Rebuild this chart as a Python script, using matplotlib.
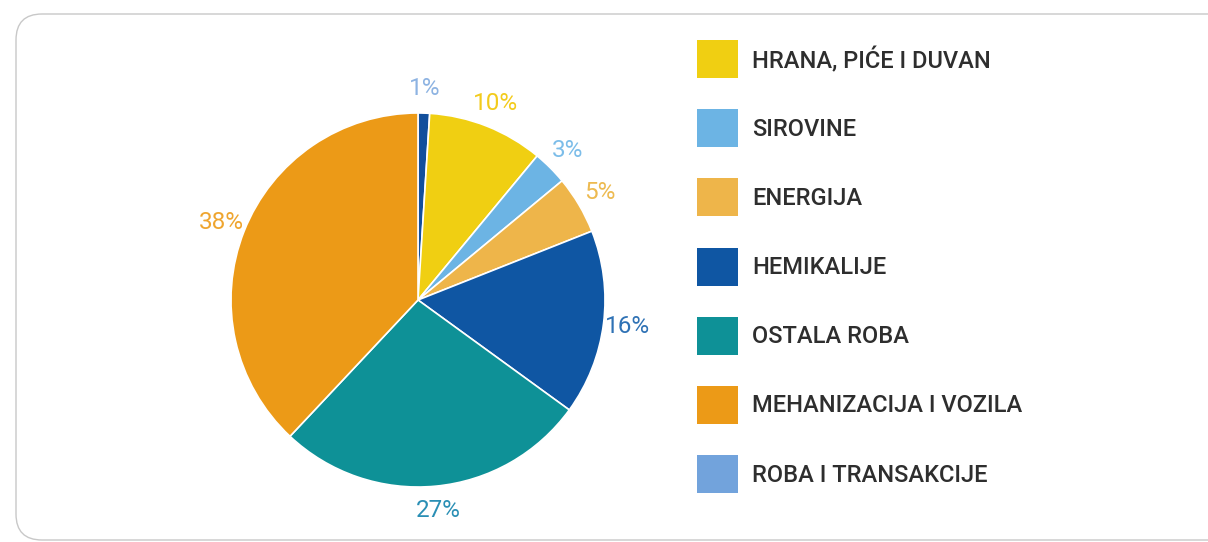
import numpy as np
import matplotlib
matplotlib.use("Agg")
import matplotlib.pyplot as plt
from matplotlib.patches import FancyBboxPatch, Rectangle

# slices clockwise from 12 o'clock
slice_names = ["ROBA I TRANSAKCIJE", "HRANA, PIĆE I DUVAN", "SIROVINE", "ENERGIJA",
               "HEMIKALIJE", "OSTALA ROBA", "MEHANIZACIJA I VOZILA"]
slice_values = [1, 10, 3, 5, 16, 27, 38]
slice_colors = ["#124f9c", "#f0cf12", "#6cb4e4", "#eeb54a", "#0f56a3", "#0e9197", "#ec9a17"]
label_colors = ["#8db3e2", "#f3cb1c", "#7cbde9", "#edba50", "#2f72b5", "#2a8fb5", "#efa52f"]

# legend order
legend_names = ["HRANA, PIĆE I DUVAN", "SIROVINE", "ENERGIJA", "HEMIKALIJE",
                "OSTALA ROBA", "MEHANIZACIJA I VOZILA", "ROBA I TRANSAKCIJE"]
legend_colors = ["#f0cf12", "#6cb4e4", "#eeb54a", "#0f56a3", "#0e9197", "#ec9a17", "#72a3dc"]

W, H = 1208, 542
fig = plt.figure(figsize=(W / 100, H / 100), dpi=100)
ax = fig.add_axes([0, 0, 1, 1])

# rounded frame
frame = FancyBboxPatch((16, 2), 1230, H - 16, boxstyle="round,pad=0,rounding_size=26",
                       fc="white", ec="#c8c8c8", lw=1.0)
ax.add_patch(frame)

cx, cy, r = 418, H - 300, 187
wedges, texts, autotexts = ax.pie(
    slice_values, colors=slice_colors, startangle=90, counterclock=False,
    center=(cx, cy), radius=r, autopct=lambda p: f"{p:.0f}%", pctdistance=1.13,
    wedgeprops=dict(edgecolor="white", linewidth=1.2), frame=True)
for t, c in zip(autotexts, label_colors):
    t.set_color(c)
    t.set_fontsize(17.5)
    t.set_family("Roboto")

# legend
for i, (name, col) in enumerate(zip(legend_names, legend_colors)):
    top = 40 + i * 69.2
    ax.add_patch(Rectangle((697, H - top - 38), 41, 38, fc=col, ec="none"))
    ax.text(752, H - top - 20, name, fontsize=17, family="Roboto", fontweight="medium",
            color="#2e2e2e", va="center", ha="left")

ax.set_xlim(0, W)
ax.set_ylim(0, H)
ax.set_aspect("auto")
ax.axis("off")
fig.savefig("out.png", dpi=100)
